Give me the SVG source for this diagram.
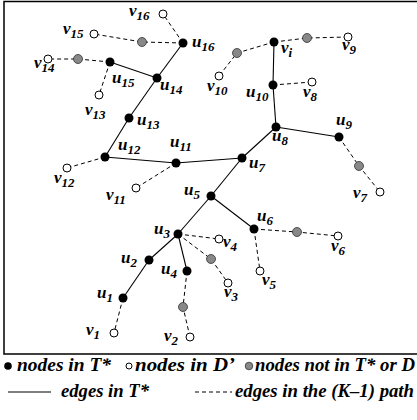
<svg xmlns="http://www.w3.org/2000/svg" width="417" height="420" viewBox="0 0 417 420">
<style>
.frame{stroke:#000;stroke-width:1.5;fill:none}
.t{stroke:#000;stroke-width:1.1;fill:none}
.d{stroke:#000;stroke-width:1;fill:none;stroke-dasharray:4,3}
.b{fill:#000}
.w{fill:#fff;stroke:#000;stroke-width:1}
.g{fill:#888;stroke:#333;stroke-width:0.8}
text{font-family:"Liberation Serif","Times New Roman",serif;font-weight:bold;font-style:italic;font-size:17px;fill:#000}
.s{font-size:13px}
.lg{font-size:18px}
</style>
<rect x="0" y="0" width="417" height="420" fill="#fff"/>
<g id="frame">
<polyline class="frame" points="417,1.5 4,1.5 4,354 417,354"/>
</g>
<g id="connectors">
<line class="t" x1="183" y1="43" x2="157" y2="78"/>
<line class="t" x1="157" y1="78" x2="110" y2="62"/>
<line class="t" x1="157" y1="78" x2="129" y2="118"/>
<line class="t" x1="129" y1="118" x2="105" y2="157"/>
<line class="t" x1="105" y1="157" x2="176" y2="163"/>
<line class="t" x1="176" y1="163" x2="242" y2="158"/>
<line class="t" x1="242" y1="158" x2="276" y2="127"/>
<line class="t" x1="276" y1="127" x2="273" y2="85"/>
<line class="t" x1="273" y1="85" x2="274" y2="42"/>
<line class="t" x1="276" y1="127" x2="339" y2="137"/>
<line class="t" x1="242" y1="158" x2="211" y2="196"/>
<line class="t" x1="211" y1="196" x2="254" y2="229"/>
<line class="t" x1="211" y1="196" x2="178" y2="234"/>
<line class="t" x1="178" y1="234" x2="149" y2="260"/>
<line class="t" x1="149" y1="260" x2="123" y2="298"/>
<line class="t" x1="178" y1="234" x2="187" y2="271"/>
<polyline class="d" points="183,43 163,14"/>
<polyline class="d" points="183,43 142,42 94,34"/>
<polyline class="d" points="110,62 78,59 48,59"/>
<polyline class="d" points="110,62 99,95"/>
<polyline class="d" points="105,157 67,168"/>
<polyline class="d" points="176,163 136,188"/>
<polyline class="d" points="274,42 237,53 219,76"/>
<polyline class="d" points="274,42 307,38 348,37"/>
<polyline class="d" points="273,85 312,82"/>
<polyline class="d" points="339,137 359,166 380,192"/>
<polyline class="d" points="254,229 297,232 338,236"/>
<polyline class="d" points="254,229 260,271"/>
<polyline class="d" points="178,234 219,239"/>
<polyline class="d" points="178,234 211,259 228,283"/>
<polyline class="d" points="187,271 183,307 190,337"/>
<polyline class="d" points="123,298 114,333"/>
</g>
<g id="u16"><circle class="b" cx="183" cy="43" r="4.5"/><text x="192" y="47">u<tspan class="s" dy="4">16</tspan></text></g>
<g id="u15"><circle class="b" cx="110" cy="62" r="4.5"/><text x="112" y="83">u<tspan class="s" dy="4">15</tspan></text></g>
<g id="u14"><circle class="b" cx="157" cy="78" r="4.5"/><text x="160" y="90">u<tspan class="s" dy="4">14</tspan></text></g>
<g id="u13"><circle class="b" cx="129" cy="118" r="4.5"/><text x="137" y="125">u<tspan class="s" dy="4">13</tspan></text></g>
<g id="u12"><circle class="b" cx="105" cy="157" r="4.5"/><text x="118" y="150">u<tspan class="s" dy="4">12</tspan></text></g>
<g id="u11"><circle class="b" cx="176" cy="163" r="4.5"/><text x="170" y="147">u<tspan class="s" dy="4">11</tspan></text></g>
<g id="vi"><circle class="b" cx="274" cy="42" r="4.5"/><text x="281" y="53">v<tspan class="s" dy="4">i</tspan></text></g>
<g id="u10"><circle class="b" cx="273" cy="85" r="4.5"/><text x="246" y="97">u<tspan class="s" dy="4">10</tspan></text></g>
<g id="u8"><circle class="b" cx="276" cy="127" r="4.5"/><text x="272" y="141">u<tspan class="s" dy="4">8</tspan></text></g>
<g id="u9"><circle class="b" cx="339" cy="137" r="4.5"/><text x="336" y="125">u<tspan class="s" dy="4">9</tspan></text></g>
<g id="u7"><circle class="b" cx="242" cy="158" r="4.5"/><text x="249" y="168">u<tspan class="s" dy="4">7</tspan></text></g>
<g id="u5"><circle class="b" cx="211" cy="196" r="4.5"/><text x="184" y="195">u<tspan class="s" dy="4">5</tspan></text></g>
<g id="u6"><circle class="b" cx="254" cy="229" r="4.5"/><text x="257" y="221">u<tspan class="s" dy="4">6</tspan></text></g>
<g id="u3"><circle class="b" cx="178" cy="234" r="4.5"/><text x="154" y="234">u<tspan class="s" dy="4">3</tspan></text></g>
<g id="u2"><circle class="b" cx="149" cy="260" r="4.5"/><text x="121" y="263">u<tspan class="s" dy="4">2</tspan></text></g>
<g id="u4"><circle class="b" cx="187" cy="271" r="4.5"/><text x="161" y="274">u<tspan class="s" dy="4">4</tspan></text></g>
<g id="u1"><circle class="b" cx="123" cy="298" r="4.5"/><text x="97" y="298">u<tspan class="s" dy="4">1</tspan></text></g>
<g id="g1"><circle class="g" cx="142" cy="42" r="4.5"/></g>
<g id="g2"><circle class="g" cx="78" cy="59" r="4.5"/></g>
<g id="g3"><circle class="g" cx="237" cy="53" r="4.5"/></g>
<g id="g4"><circle class="g" cx="307" cy="38" r="4.5"/></g>
<g id="g5"><circle class="g" cx="359" cy="166" r="4.5"/></g>
<g id="g6"><circle class="g" cx="297" cy="232" r="4.5"/></g>
<g id="g7"><circle class="g" cx="211" cy="259" r="4.5"/></g>
<g id="g8"><circle class="g" cx="183" cy="307" r="4.5"/></g>
<g id="v16"><circle class="w" cx="163" cy="14" r="4"/><text x="129" y="16">v<tspan class="s" dy="4">16</tspan></text></g>
<g id="v15"><circle class="w" cx="94" cy="34" r="4"/><text x="63" y="34">v<tspan class="s" dy="4">15</tspan></text></g>
<g id="v14"><circle class="w" cx="48" cy="59" r="4"/><text x="34" y="68">v<tspan class="s" dy="4">14</tspan></text></g>
<g id="v13"><circle class="w" cx="99" cy="95" r="4"/><text x="85" y="115">v<tspan class="s" dy="4">13</tspan></text></g>
<g id="v12"><circle class="w" cx="67" cy="168" r="4"/><text x="54" y="183">v<tspan class="s" dy="4">12</tspan></text></g>
<g id="v11"><circle class="w" cx="136" cy="188" r="4"/><text x="106" y="200">v<tspan class="s" dy="4">11</tspan></text></g>
<g id="v10"><circle class="w" cx="219" cy="76" r="4"/><text x="207" y="91">v<tspan class="s" dy="4">10</tspan></text></g>
<g id="v9"><circle class="w" cx="348" cy="37" r="4"/><text x="342" y="50">v<tspan class="s" dy="4">9</tspan></text></g>
<g id="v8"><circle class="w" cx="312" cy="82" r="4"/><text x="303" y="97">v<tspan class="s" dy="4">8</tspan></text></g>
<g id="v7"><circle class="w" cx="380" cy="192" r="4"/><text x="353" y="198">v<tspan class="s" dy="4">7</tspan></text></g>
<g id="v6"><circle class="w" cx="338" cy="236" r="4"/><text x="331" y="251">v<tspan class="s" dy="4">6</tspan></text></g>
<g id="v5"><circle class="w" cx="260" cy="271" r="4"/><text x="262" y="285">v<tspan class="s" dy="4">5</tspan></text></g>
<g id="v4"><circle class="w" cx="219" cy="239" r="4"/><text x="223" y="247">v<tspan class="s" dy="4">4</tspan></text></g>
<g id="v3"><circle class="w" cx="228" cy="283" r="4"/><text x="224" y="297">v<tspan class="s" dy="4">3</tspan></text></g>
<g id="v2"><circle class="w" cx="190" cy="337" r="4"/><text x="164" y="341">v<tspan class="s" dy="4">2</tspan></text></g>
<g id="v1"><circle class="w" cx="114" cy="333" r="4"/><text x="86" y="335">v<tspan class="s" dy="4">1</tspan></text></g>
<g id="legend">
<circle class="b" cx="8" cy="366" r="3.8"/>
<text class="lg" x="17" y="371" textLength="94" lengthAdjust="spacingAndGlyphs">nodes in T*</text>
<circle class="w" cx="129" cy="366" r="3"/>
<text class="lg" x="135" y="371" textLength="100" lengthAdjust="spacingAndGlyphs">nodes in D’</text>
<circle class="g" cx="249" cy="366" r="3.8"/>
<text class="lg" x="255" y="371" textLength="160" lengthAdjust="spacingAndGlyphs">nodes not in T* or D</text>
<line class="t" x1="8" y1="392" x2="51" y2="392"/>
<text class="lg" x="61" y="397" textLength="88" lengthAdjust="spacingAndGlyphs">edges in T*</text>
<line class="d" x1="195" y1="392" x2="232" y2="392"/>
<text class="lg" x="235" y="397" textLength="179" lengthAdjust="spacingAndGlyphs">edges in the (K–1) path</text>
</g>
</svg>
